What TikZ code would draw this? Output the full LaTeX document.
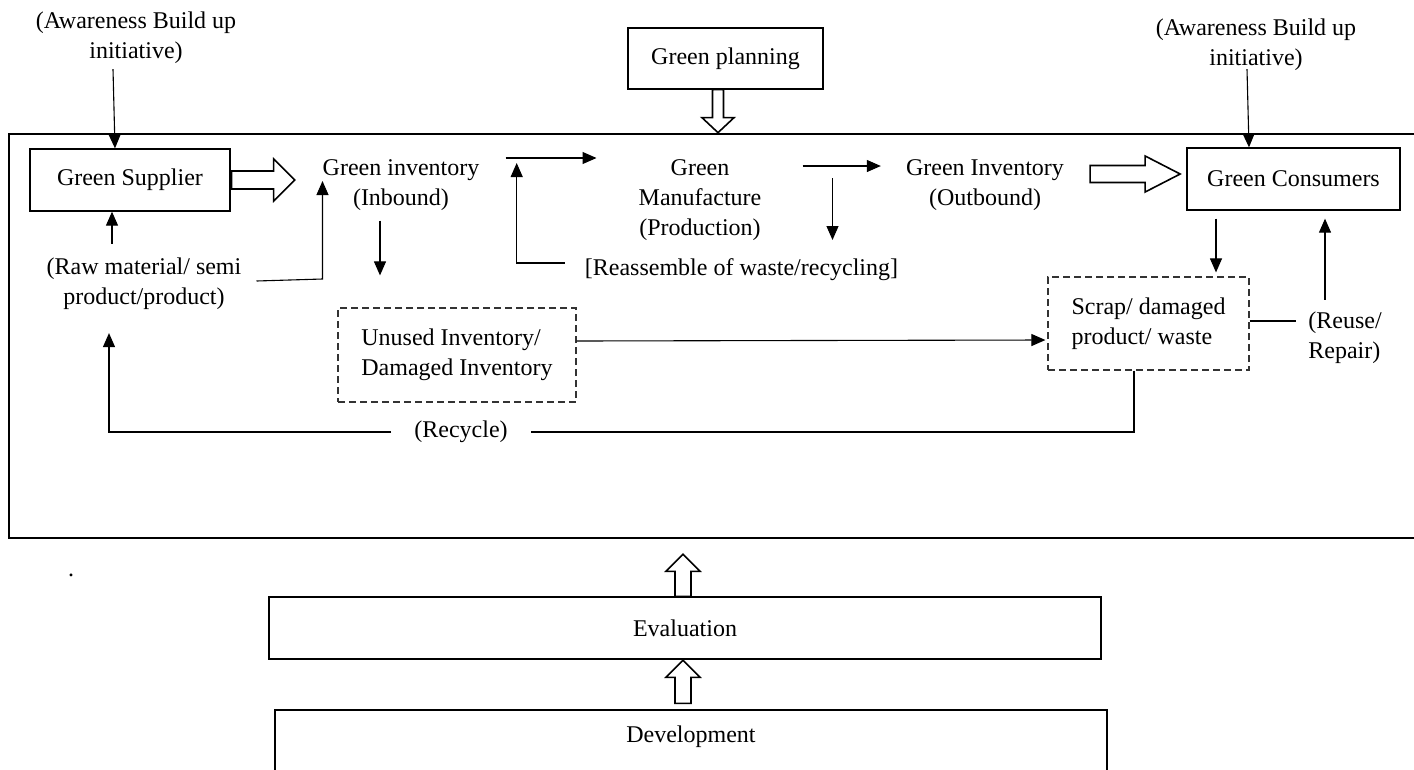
\documentclass[tikz,border=0pt]{standalone}
\usepackage{fontspec}
\setmainfont{Liberation Serif}
\usetikzlibrary{calc,arrows.meta}
\begin{document}
\begin{tikzpicture}[x=1pt,y=-1pt,
  txt/.style={font=\fontsize{24}{30}\selectfont, inner sep=0pt, align=center},
  box/.style={draw, line width=1.3pt, font=\fontsize{24}{30}\selectfont, inner sep=0pt},
  dbox/.style={draw=black!80, dashed, dash pattern=on 7pt off 4pt, line width=1.2pt,
     font=\fontsize{24}{30}\selectfont, inner sep=0pt, align=left},
  arr/.style={line width=1.1pt, -{Triangle[length=14pt,width=12pt]}},
  ln/.style={line width=1.1pt},
  hollow/.style={draw, line width=1.6pt, fill=white, line join=miter}
]
\useasboundingbox (0,0) rectangle (1414,769);

% outer frame
\draw[line width=1.3pt] (1425,134) -- (9,134) -- (9,538) -- (1425,538);

% nodes
\node[txt] (aw1) at (136,38) {(Awareness Build up\\initiative)};
\node[box, minimum width=200pt, minimum height=62pt] (sup) at (130,180) {Green Supplier};
\node[txt] (inb) at (401,185) {Green inventory\\(Inbound)};
\node[txt] (man) at (700,200) {Green\\Manufacture\\(Production)};
\node[txt] (outb) at (985,185) {Green Inventory\\(Outbound)};
\node[box, minimum width=213pt, minimum height=62pt] (con) at (1293.5,179) {Green Consumers};
\node[txt] (aw2) at (1256,45) {(Awareness Build up\\initiative)};
\node[box, minimum width=195pt, minimum height=61pt] (plan) at (725.5,58.5) {Green planning};
\node[txt] (raw) at (144,284) {(Raw material/ semi\\product/product)};
\node[txt] (reas) at (741.5,270) {[Reassemble of waste/recycling]};
\node[dbox, minimum width=238pt, minimum height=94pt] (unused) at (457,355) {Unused Inventory/\\Damaged Inventory};
\node[dbox, minimum width=201pt, minimum height=93pt] (scrap) at (1148.5,323.5) {Scrap/ damaged\\product/ waste};
\node[txt, align=left] (reuse) at (1345,338) {(Reuse/\\Repair)};
\node[txt, inner xsep=23pt] (recyc) at (461,432) {(Recycle)};
\node[txt, anchor=base] (dot) at (71,576) {.};
\node[box, minimum width=832pt, minimum height=62pt] (eval) at (685,628) {Evaluation};
\node[draw, line width=1.3pt, minimum width=832pt, minimum height=100pt] (devbox) at (691,760) {};
\node[txt] (dev) at (691,737) {Development};

% connectors
\draw[arr] ($(aw1.south)+(-23,5)$) -- ($(sup.north)+(-15,0)$);
\draw[arr] ($(raw.north)+(-32,-14)$) -- ($(sup.south)+(-18,0)$);
\coordinate (r1) at ($(raw.east)+(15,-3)$);
\draw[arr] (r1) -- ($(inb.west |- r1)+(0,-2)$) -- ($(inb.west)+(0,-4)$);
\draw[arr] ($(inb.south)+(-21,10)$) -- ($(unused.north)+(-77,-32)$);
\draw[arr] ($(inb.east)+(26,-27)$) -- ($(man.west)+(-42,-42)$);
\draw[arr] ($(reas.west)+(-20,-7)$) -- ($(reas.west)+(-68,-7)$) -- ($(reas.west)+(-68,-107)$);
\draw[arr] ($(man.east)+(41,-34)$) -- ($(outb.west)+(-25,-19)$);
\draw[arr] ($(man.east)+(71,-22)$) -- ($(man.east)+(71,40)$);
\draw[arr] ($(aw2.south)+(-9,-2)$) -- ($(con.north)+(-44.5,0)$);
\draw[arr] ($(con.south)+(-77.5,8)$) -- ($(scrap.north)+(67.5,-4)$);
\draw[arr] ($(reuse.north)+(-20,-12)$) -- ($(con.south)+(31.5,8)$);
\draw[ln] ($(scrap.east)+(0,-2.5)$) -- ($(reuse.west)+(-12,-17)$);
\draw[arr] ($(unused.east)+(0,-14)$) -- ($(scrap.west)+(-2,16.5)$);
\coordinate (rc) at ($(scrap.south)+(-14.5,0)$);
\draw[ln] (rc) |- (recyc.east);
\draw[arr] (recyc.west) -| ($(raw.south)+(-35,23)$);

% hollow block arrows
\draw[hollow] ($(sup.east)+(1,-9)$) -- ++(42,0) -- ++(0,-12) -- ++(21,21) -- ++(-21,21) -- ++(0,-12) -- ++(-42,0) -- cycle;
\draw[hollow] ($(outb.east)+(26,-19.5)$) -- ++(55,0) -- ++(0,-9.5) -- ++(35,18) -- ++(-35,18) -- ++(0,-9.5) -- ++(-55,0) -- cycle;
\draw[hollow] ($(plan.south)+(-13,0)$) -- ++(0,28) -- ++(-10.5,0) -- ++(16,15) -- ++(16,-15) -- ++(-10.5,0) -- ++(0,-28) -- cycle;
\draw[hollow] ($(eval.north)+(-10,0)$) -- ++(0,-25) -- ++(-9,0) -- ++(17,-17) -- ++(17,17) -- ++(-9,0) -- ++(0,25) -- cycle;
\draw[hollow] ($(devbox.north)+(-16,-6)$) -- ++(0,-26) -- ++(-9,0) -- ++(17,-17) -- ++(17,17) -- ++(-9,0) -- ++(0,26) -- cycle;
\end{tikzpicture}
\end{document}
